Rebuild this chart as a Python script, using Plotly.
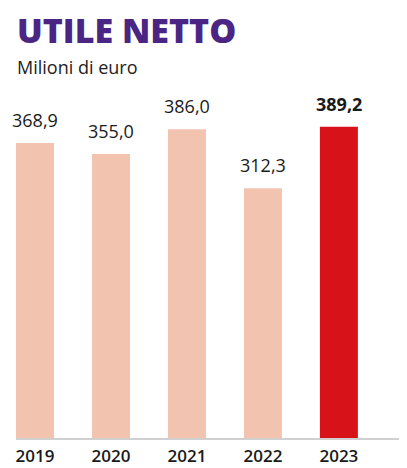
import plotly.graph_objects as go

years = ["2019", "2020", "2021", "2022", "2023"]
values = [368.9, 355.0, 386.0, 312.3, 389.2]
highlight = [False, False, False, False, True]

light = "#F2C3AF"
red = "#D71319"
colors = [red if h else light for h in highlight]
labels = [f"{v:.1f}".replace(".", ",") for v in values]

FONT = "Open Sans"

fig = go.Figure()
fig.add_trace(go.Bar(
    x=list(range(len(years))), y=values,
    marker=dict(color=colors, line=dict(width=0)),
    width=0.5, hoverinfo="skip",
))

for i, (v, lab, h) in enumerate(zip(values, labels, highlight)):
    fig.add_annotation(
        x=i, y=v, text=lab,
        showarrow=False, yanchor="bottom", yshift=9,
        font=dict(family=FONT, size=18, color="#1a1a1a", weight=700 if h else 500),
    )

fig.add_annotation(
    xref="paper", yref="paper", x=-0.003, y=1.275, xanchor="left", yanchor="middle",
    text="UTILE NETTO", showarrow=False,
    font=dict(family=FONT, size=34, color="#4B2583", weight=800),
)
fig.add_annotation(
    xref="paper", yref="paper", x=-0.003, y=1.16, xanchor="left", yanchor="middle",
    text="Milioni di euro", showarrow=False,
    font=dict(family=FONT, size=18, color="#222222"),
)

fig.update_layout(
    width=399, height=460,
    margin=dict(l=8, r=2, t=110, b=30, autoexpand=False),
    paper_bgcolor="white", plot_bgcolor="white",
    showlegend=False,
    xaxis=dict(
        range=[-0.25, 4.87],
        tickmode="array", tickvals=list(range(len(years))), ticktext=years,
        showgrid=False, zeroline=False,
        showline=True, linecolor="#d0d0d0", linewidth=2,
        ticks="", ticklabelstandoff=2,
        tickfont=dict(family=FONT, size=17, color="#1a1a1a", weight=600),
        fixedrange=True,
    ),
    yaxis=dict(range=[0, 400], visible=False, fixedrange=True),
)

fig.write_html("out.html")
